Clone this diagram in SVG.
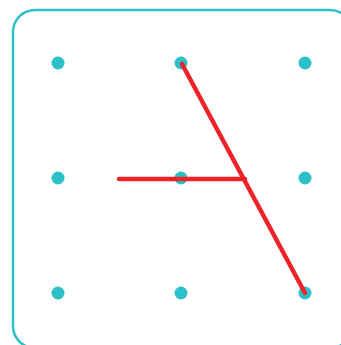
<svg xmlns="http://www.w3.org/2000/svg" width="341" height="345" viewBox="0 0 341 345">
<style>
.board{fill:none;stroke:#2cc0c8;stroke-width:2.5}
.dot{fill:#2cc0c8}
.seg{stroke:#ee2229;stroke-width:4.5;stroke-linecap:round;fill:none}
</style>
<rect width="341" height="345" fill="#fff"/>
<rect class="board" x="13" y="10" width="339" height="338" rx="22"/>
<g id="dots">
<g id="d1"><circle class="dot" cx="58" cy="63" r="6.5"/></g>
<g id="d2"><circle class="dot" cx="181" cy="63" r="6.5"/></g>
<g id="d3"><circle class="dot" cx="305" cy="63" r="6.5"/></g>
<g id="d4"><circle class="dot" cx="58" cy="178" r="6.5"/></g>
<g id="d5"><circle class="dot" cx="181" cy="178" r="6.5"/></g>
<g id="d6"><circle class="dot" cx="305" cy="178" r="6.5"/></g>
<g id="d7"><circle class="dot" cx="58" cy="293" r="6.5"/></g>
<g id="d8"><circle class="dot" cx="181" cy="293" r="6.5"/></g>
<g id="d9"><circle class="dot" cx="305" cy="293" r="6.5"/></g>
</g>
<g id="lines">
<line class="seg" x1="119" y1="179" x2="245" y2="179"/>
<line class="seg" x1="182" y1="64" x2="305" y2="293"/>
</g>
</svg>
